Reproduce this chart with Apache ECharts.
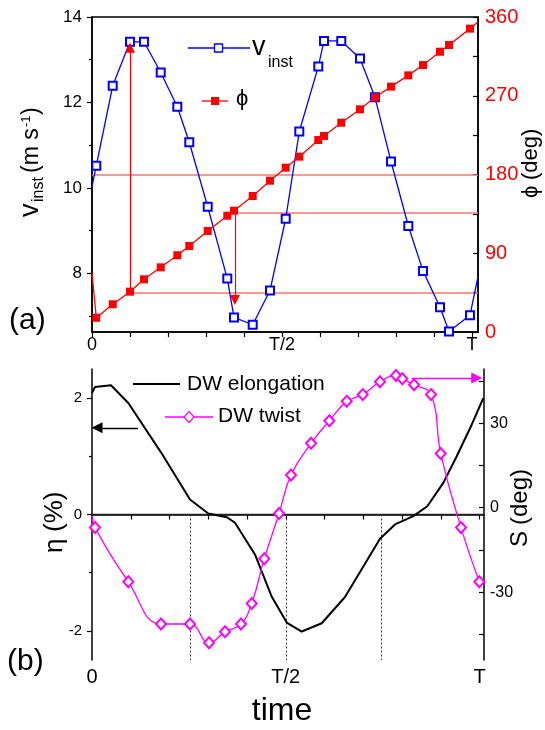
<!DOCTYPE html>
<html><head><meta charset="utf-8">
<script src="https://cdn.jsdelivr.net/npm/echarts@6/dist/echarts.min.js"></script>
<style>html,body{margin:0;padding:0;background:#fff}#c{width:545px;height:730px}</style>
</head><body><div id="c"></div>
<script>
// ---------- DATA (time in units of the period T) ----------
// panel (a)
const aTime = [0, 0.0113, 0.0545, 0.1, 0.1368, 0.1808, 0.2245, 0.256, 0.3045, 0.356, 0.3737, 0.4229, 0.4684, 0.5097, 0.5455, 0.5955, 0.6105, 0.656, 0.7053, 0.7447, 0.7868, 0.8324, 0.871, 0.9158, 0.9395, 0.9947, 1.0158];
const vInst = [10.03, 10.52, 12.39, 13.42, 13.42, 12.70, 11.90, 11.07, 9.56, 7.88, 6.97, 6.80, 7.60, 9.28, 11.32, 12.84, 13.44, 13.44, 13.03, 12.12, 10.62, 9.11, 8.06, 7.21, 6.64, 7.02, 7.93];
const phiDeg = [67.4, 16.3, 31.7, 46.1, 60.2, 73.9, 87.7, 98.3, 115.4, 132.9, 138.6, 155.4, 172.9, 187.8, 200.4, 219.4, 224.0, 239.2, 254.5, 268.2, 280.4, 293.3, 305.1, 320.3, 328.0, 346.7, 354.6];
// guide lines in panel (a)
const phiGuideLevel = [180, 136.3, 45.4];
const phiGuideStart = [0, 0.376, 0.1];
const vArrowTime = [0.1, 0.376];
const vArrowFrom = [7.57, 9.41];
const vArrowTo = [13.28, 7.38];
// panel (b)
const eTime = [0, 0.0077, 0.049, 0.0937, 0.178, 0.2529, 0.3001, 0.3476, 0.369, 0.4206, 0.4637, 0.5025, 0.5412, 0.5928, 0.6529, 0.7432, 0.7819, 0.8292, 0.8653, 0.9066, 0.9412, 0.9799, 1.0098];
const etaPct = [2.09, 2.19, 2.22, 1.915, 1.068, 0.257, 0.017, -0.046, -0.142, -0.686, -1.411, -1.857, -2.011, -1.869, -1.418, -0.417, -0.171, -0.029, 0.142, 0.543, 1.0, 1.543, 2.0];
const sTime = [0, 0.0077, 0.0937, 0.178, 0.2529, 0.302, 0.3432, 0.3845, 0.4121, 0.4446, 0.4826, 0.5135, 0.5652, 0.6124, 0.6573, 0.6986, 0.7432, 0.7845, 0.8008, 0.831, 0.8748, 0.8999, 0.9523, 0.9995];
const sTwist = [-2.9, -7.05, -26.3, -41.3, -41.3, -48.0, -44.1, -41.3, -34.0, -18.1, -2.07, 11.6, 22.9, 30.9, 37.8, 40.2, 44.8, 47.0, 45.8, 43.7, 40.2, 19.3, -7.05, -26.3];
const dropTimes = [0.253, 0.5, 0.746];
const etaArrow = {level: 1.49, from: 0.1187, to: 0.0129};
const sArrow = {level: 46.1, from: 0.825, to: 0.9928};
// ticks
const xTickValues = [0, 0.1, 0.2, 0.3, 0.4, 0.5, 0.6, 0.7, 0.8, 0.9, 1.0];
const xLabelValues = [0, 0.5, 1.0];
const xLabelTexts = ['0', 'T/2', 'T'];
const vMajor = [8, 10, 12, 14], vMinor = [7, 9, 11, 13];
const phiTicks = [0, 45, 90, 135, 180, 225, 270, 315, 360], phiLabels = [0, 90, 180, 270, 360];
const etaMajor = [-2, 0, 2], etaMinor = [-1, 1];
const sTicks = [-45, -30, -15, 0, 15, 30, 45], sLabels = [-30, 0, 30];

// ---------- CHART ----------
const FONT = '"Liberation Sans", Arial, Helvetica, sans-serif';
const chart = echarts.init(document.getElementById('c'));
const zip = (a, b) => a.map((t, i) => [t, b[i]]);
const xFmt = v => { const i = xLabelValues.findIndex(u => Math.abs(u - v) < 1e-6); return i >= 0 ? xLabelTexts[i] : ''; };

function xAxisCfg(grid, max, fs, margin) {
  return {
    type: 'value', gridIndex: grid, min: 0, max: max, position: 'bottom',
    axisLine: {show: true, lineStyle: {color: '#000', width: 1.5}},
    axisTick: {show: true, inside: false, length: 5, customValues: xTickValues, lineStyle: {color: '#000', width: 1.2}},
    axisLabel: {show: true, customValues: xLabelValues, formatter: xFmt, color: '#000', fontSize: fs, fontFamily: FONT, margin: margin},
    splitLine: {show: false}
  };
}
function yAxisCfg(o) {
  return Object.assign({
    type: 'value', splitLine: {show: false},
    axisLine: {show: true, lineStyle: {color: '#000', width: 1.5}},
  }, o);
}

const vData = zip(aTime, vInst).map((d, i) => (i === 0 || i === aTime.length - 1) ? {value: d, symbol: 'none'} : d);
const pData = zip(aTime, phiDeg).map((d, i) => (i === 0 || i === aTime.length - 1) ? {value: d, symbol: 'none'} : d);
const sData = zip(sTime, sTwist).map((d, i) => i === 0 ? {value: d, symbol: 'none'} : d);

function rotText(x, y, pieces, color) {
  return {
    type: 'group', x: x, y: y, rotation: Math.PI / 2, z: 100,
    children: pieces.map(p => ({
      type: 'text', x: p.dx, y: p.dy - 0.35 * p.f,
      style: {text: p.t, fontSize: p.f, fontFamily: FONT, fill: color || '#000', align: 'left', verticalAlign: 'middle'}
    }))
  };
}
function txt(x, y, t, f, color, align) {
  return {type: 'text', x: x, y: y - 0.35 * f, z: 100, style: {text: t, fontSize: f, fontFamily: FONT, fill: color || '#000', align: align || 'left', verticalAlign: 'middle'}};
}

const option = {
  animation: false,
  backgroundColor: '#fff',
  grid: [
    {left: 92, top: 17, width: 386, height: 315, show: true, borderColor: '#000', borderWidth: 1.5, backgroundColor: 'transparent'},
    {left: 92, top: 369, width: 392, height: 291}
  ],
  xAxis: [xAxisCfg(0, 1.0158, 18, 4), xAxisCfg(1, 1.0116, 20, 7)],
  yAxis: [
    yAxisCfg({gridIndex: 0, position: 'left', min: 6.63, max: 14,
      axisTick: {length: 5, customValues: vMajor, lineStyle: {color: '#000', width: 1.2}},
      axisLabel: {customValues: vMajor, color: '#000', fontSize: 17, fontFamily: FONT, margin: 10}}),
    yAxisCfg({gridIndex: 0, position: 'left', min: 6.63, max: 14, axisLine: {show: false},
      axisTick: {length: 3, customValues: vMinor, lineStyle: {color: '#000', width: 1.2}},
      axisLabel: {show: false}}),
    yAxisCfg({gridIndex: 0, position: 'right', min: 0, max: 360,
      axisTick: {inside: true, length: 5, customValues: phiTicks, lineStyle: {color: '#000', width: 1.2}},
      axisLabel: {customValues: phiLabels, color: '#ff0000', fontSize: 20, fontFamily: FONT, margin: 7}}),
    yAxisCfg({gridIndex: 1, position: 'left', min: -2.5, max: 2.5,
      axisTick: {length: 5, customValues: etaMajor, lineStyle: {color: '#000', width: 1.2}},
      axisLabel: {customValues: etaMajor, color: '#000', fontSize: 15, fontFamily: FONT, margin: 10}}),
    yAxisCfg({gridIndex: 1, position: 'left', min: -2.5, max: 2.5, axisLine: {show: false},
      axisTick: {length: 3, customValues: etaMinor, lineStyle: {color: '#000', width: 1.2}},
      axisLabel: {show: false}}),
    yAxisCfg({gridIndex: 1, position: 'right', min: -54.1, max: 49.3,
      axisTick: {inside: true, length: 5, customValues: sTicks, lineStyle: {color: '#000', width: 1.2}},
      axisLabel: {customValues: sLabels, color: '#000', fontSize: 16, fontFamily: FONT, margin: 6}})
  ],
  series: [
    // guide lines (a)
    {type: 'lines', coordinateSystem: 'cartesian2d', xAxisIndex: 0, yAxisIndex: 2, z: 1, silent: true,
      lineStyle: {color: '#ff7373', width: 1.6, opacity: 1},
      data: phiGuideLevel.map((lv, i) => ({coords: [[phiGuideStart[i], lv], [1.0158, lv]]}))},
    {type: 'line', name: 'vinst', xAxisIndex: 0, yAxisIndex: 0, z: 2, data: vData,
      symbol: 'emptyRect', symbolSize: 8, color: '#0000ff', clip: true,
      lineStyle: {color: '#0000ff', width: 1.3}, itemStyle: {color: '#0000ff', borderWidth: 1.3}},
    {type: 'line', name: 'phi', xAxisIndex: 0, yAxisIndex: 2, z: 3, data: pData,
      symbol: 'rect', symbolSize: 8, color: '#ff0000', clip: true,
      lineStyle: {color: '#ff0000', width: 1.3}, itemStyle: {color: '#ff0000'}},
    {type: 'lines', coordinateSystem: 'cartesian2d', xAxisIndex: 0, yAxisIndex: 0, z: 5, silent: true,
      symbol: ['none', 'triangle'], symbolSize: [7, 10],
      lineStyle: {color: '#ff0000', width: 1.2, opacity: 1},
      data: vArrowTime.map((t, i) => ({coords: [[t, vArrowFrom[i]], [t, vArrowTo[i]]]}))},
    // panel (b)
    {type: 'lines', coordinateSystem: 'cartesian2d', xAxisIndex: 1, yAxisIndex: 3, z: 1, silent: true,
      lineStyle: {color: '#222', width: 1.3, opacity: 1},
      data: [{coords: [[0, 0], [1.0116, 0]]}]},
    {type: 'lines', coordinateSystem: 'cartesian2d', xAxisIndex: 1, yAxisIndex: 3, z: 1, silent: true,
      lineStyle: {color: '#333', width: 1, type: [2, 2], opacity: 1},
      data: dropTimes.map(t => ({coords: [[t, 0], [t, -2.5]]}))},
    {type: 'line', name: 'elong', xAxisIndex: 1, yAxisIndex: 3, z: 2, data: zip(eTime, etaPct),
      symbol: 'none', color: '#000', lineStyle: {color: '#000', width: 2}},
    {type: 'line', name: 'twist', xAxisIndex: 1, yAxisIndex: 5, z: 3, data: sData, smooth: 0.45,
      symbol: 'emptyDiamond', symbolSize: [10, 11], color: '#ff00ff',
      lineStyle: {color: '#ff00ff', width: 1.3}, itemStyle: {color: '#ff00ff', borderWidth: 1.2}},
    {type: 'lines', coordinateSystem: 'cartesian2d', xAxisIndex: 1, yAxisIndex: 3, z: 4, silent: true,
      symbol: ['none', 'triangle'], symbolSize: [7, 11],
      lineStyle: {color: '#000', width: 1.3, opacity: 1},
      data: [{coords: [[etaArrow.from, etaArrow.level], [etaArrow.to, etaArrow.level]]}]},
    {type: 'lines', coordinateSystem: 'cartesian2d', xAxisIndex: 1, yAxisIndex: 5, z: 4, silent: true,
      symbol: ['none', 'triangle'], symbolSize: [7, 11],
      lineStyle: {color: '#ff00ff', width: 1.3, opacity: 1},
      data: [{coords: [[sArrow.from, sArrow.level], [sArrow.to, sArrow.level]]}]}
  ],
  graphic: [
    // legend (a)
    {type: 'line', shape: {x1: 188, y1: 48, x2: 250, y2: 48}, style: {stroke: '#0000ff', lineWidth: 1.3}},
    {type: 'rect', shape: {x: 214.5, y: 44, width: 8, height: 8}, style: {fill: '#fff', stroke: '#0000ff', lineWidth: 1.3}},
    txt(252, 57, 'v', 27),
    txt(268, 68, 'inst', 16),
    {type: 'line', shape: {x1: 202, y1: 101, x2: 228, y2: 101}, style: {stroke: '#ff0000', lineWidth: 1.3}},
    {type: 'rect', shape: {x: 211, y: 97, width: 8, height: 8}, style: {fill: '#ff0000'}},
    txt(236, 107, 'ϕ', 22),
    // legend (b)
    {type: 'line', shape: {x1: 133, y1: 384, x2: 180, y2: 384}, style: {stroke: '#000', lineWidth: 2}},
    txt(187, 392, 'DW elongation', 21),
    {type: 'line', shape: {x1: 165, y1: 417, x2: 213, y2: 417}, style: {stroke: '#ff00ff', lineWidth: 1.3}},
    {type: 'polygon', shape: {points: [[189, 411.5], [194, 417], [189, 422.5], [184, 417]]}, style: {fill: '#fff', stroke: '#ff00ff', lineWidth: 1.2}},
    txt(218, 424, 'DW twist', 21),
    // axis titles
    rotText(40, 217, [{t: 'v', dx: 0, dy: 0, f: 27}, {t: 'inst', dx: 15, dy: 4, f: 16}, {t: '(m s', dx: 44, dy: 0, f: 23}, {t: '-1', dx: 90, dy: -9, f: 13}, {t: ')', dx: 102, dy: 0, f: 23}]),
    rotText(539, 198, [{t: 'ϕ', dx: 0, dy: 0, f: 22}, {t: '(deg)', dx: 18, dy: 0, f: 22}]),
    rotText(64, 553, [{t: 'η', dx: 0, dy: 0, f: 26}, {t: '(%)', dx: 21, dy: 0, f: 26}]),
    rotText(529, 547, [{t: 'S', dx: 0, dy: 0, f: 24}, {t: '(deg)', dx: 22, dy: 0, f: 24}]),
    txt(282, 722, 'time', 32, '#000', 'center'),
    txt(9, 331, '(a)', 30),
    txt(7, 672, '(b)', 30)
  ]
};
chart.setOption(option);
</script></body></html>
